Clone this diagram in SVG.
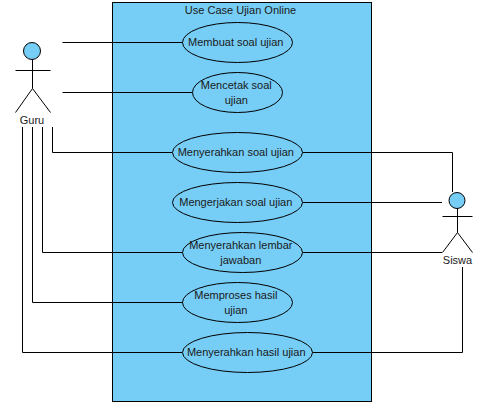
<svg xmlns="http://www.w3.org/2000/svg" width="486" height="406" viewBox="0 0 486 406">
<style>
text{font-family:"Liberation Sans",Arial,sans-serif;font-size:11px;fill:#1a1a1a;text-anchor:middle}
.uc,.head,.sys{fill:#76cdf5;stroke:#000;stroke-width:1}
.line,.stick{fill:none;stroke:#000;stroke-width:1}
</style>
<rect width="486" height="406" fill="#fff"/>
<g id="system"><rect class="sys" x="112.5" y="2.5" width="259" height="399"/><text x="240.5" y="14">Use Case Ujian Online</text></g>
<g id="connectors">
<path class="line" d="M62.5 42.5H182.5"/>
<path class="line" d="M62.5 92.5H192.5"/>
<path class="line" d="M52.5 127V152.5H172.5"/>
<path class="line" d="M42.5 127V252.5H182.5"/>
<path class="line" d="M32.5 127V302.5H182.5"/>
<path class="line" d="M22.5 127V352.5H182.5"/>
<path class="line" d="M302.5 152.5H452.5V192"/>
<path class="line" d="M302.5 202.5H442"/>
<path class="line" d="M302.5 252.5H442"/>
<path class="line" d="M312.5 352.5H462.5V267"/>
</g>
<g id="uc1"><ellipse class="uc" cx="237.5" cy="42.5" rx="55" ry="20"/><text x="235.8" y="46">Membuat soal ujian</text></g>
<g id="uc2"><ellipse class="uc" cx="237.5" cy="92.5" rx="45" ry="20"/><text x="236.3" y="89">Mencetak soal</text><text x="236.3" y="104">ujian</text></g>
<g id="uc3"><ellipse class="uc" cx="237.5" cy="152.5" rx="65" ry="20"/><text x="235.8" y="156">Menyerahkan soal ujian</text></g>
<g id="uc4"><ellipse class="uc" cx="237.5" cy="202.5" rx="65" ry="20"/><text x="235.8" y="206">Mengerjakan soal ujian</text></g>
<g id="uc5"><ellipse class="uc" cx="242.5" cy="252.5" rx="60" ry="20"/><text x="240.8" y="249">Menyerahkan lembar</text><text x="240.8" y="264">jawaban</text></g>
<g id="uc6"><ellipse class="uc" cx="237.5" cy="302.5" rx="55" ry="20"/><text x="235.8" y="299">Memproses hasil</text><text x="235.8" y="314">ujian</text></g>
<g id="uc7"><ellipse class="uc" cx="247.5" cy="352.5" rx="65" ry="20"/><text x="246.2" y="356">Menyerahkan hasil ujian</text></g>
<g id="guru"><circle class="head" cx="32" cy="51" r="8.5"/><path class="stick" d="M32.5 59.5V88.5M15.5 70.5H50.5M15.5 112.5L32.5 88.5L50.5 112.5"/><text x="32" y="124">Guru</text></g>
<g id="siswa"><circle class="head" cx="457" cy="200.5" r="8"/><path class="stick" d="M457.5 208.5V232.5M442.5 216.5H472.5M442.5 252.5L457.5 232.5L472.5 252.5"/><text x="457.5" y="264">Siswa</text></g>
</svg>
